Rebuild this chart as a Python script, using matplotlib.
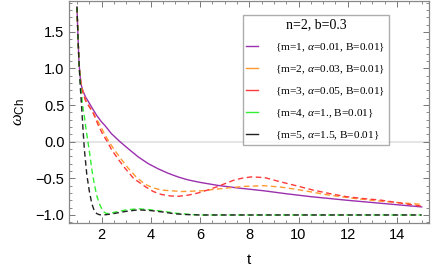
import matplotlib
matplotlib.use("Agg")
import matplotlib.pyplot as plt
from matplotlib.lines import Line2D
from matplotlib.ticker import MultipleLocator

plt.rcParams['font.family'] = ['Liberation Sans', 'DejaVu Sans']
plt.rcParams['mathtext.fontset'] = 'custom'
plt.rcParams['mathtext.rm'] = 'Liberation Serif'
plt.rcParams['mathtext.it'] = 'Liberation Serif:italic'
plt.rcParams['mathtext.sf'] = 'Liberation Sans'

# --- data ---
t1 = [1.0, 1.04, 1.08, 1.12, 1.16, 1.2, 1.26, 1.35, 1.46, 1.6, 1.8, 2.0, 2.14, 2.4, 2.75,
      3.1, 3.5, 3.9, 4.3, 4.7, 5.1, 5.5, 6.0, 6.7, 7.5, 8.6, 9.5, 10.5, 12.0, 13.5, 15.0]
w1 = [1.84, 1.45, 1.1, 0.92, 0.8, 0.74, 0.68, 0.61, 0.55, 0.47, 0.36, 0.27, 0.22, 0.11, 0.0,
      -0.1, -0.21, -0.3, -0.37, -0.43, -0.48, -0.52, -0.555, -0.595, -0.63, -0.67, -0.71, -0.75, -0.8, -0.845, -0.89]

t2 = [1.0, 1.04, 1.08, 1.12, 1.16, 1.2, 1.26, 1.35, 1.46, 1.65, 1.93, 2.1, 2.3, 2.54, 2.8,
      3.08, 3.4, 3.76, 4.1, 4.43, 5.25, 6.06, 7.14, 7.8, 8.6, 9.3, 9.91, 10.6, 11.26,
      12.3, 13.29, 14.2, 15.0]
w2 = [1.84, 1.45, 1.1, 0.92, 0.8, 0.73, 0.66, 0.57, 0.5, 0.4, 0.23, 0.12, 0.0, -0.12, -0.24,
      -0.36, -0.48, -0.58, -0.63, -0.66, -0.68, -0.67, -0.63, -0.61, -0.6, -0.62, -0.65, -0.69, -0.73,
      -0.775, -0.81, -0.835, -0.855]

t3 = [1.0, 1.04, 1.08, 1.12, 1.16, 1.2, 1.26, 1.35, 1.46, 1.65, 1.86, 2.05, 2.2, 2.41, 2.7,
      2.95, 3.3, 3.76, 4.1, 4.43, 4.8, 5.11, 5.5, 5.92, 6.3, 6.73, 7.1, 7.41, 7.75, 8.09,
      8.63, 9.24, 9.9, 10.59, 11.3, 11.94, 12.6, 13.29, 14.2, 15.0]
w3 = [1.84, 1.45, 1.1, 0.92, 0.8, 0.72, 0.65, 0.56, 0.5, 0.4, 0.23, 0.1, 0.02, -0.11, -0.25,
      -0.36, -0.5, -0.61, -0.68, -0.72, -0.74, -0.745, -0.73, -0.7, -0.66, -0.61, -0.56, -0.52, -0.495, -0.48,
      -0.49, -0.545, -0.6, -0.66, -0.71, -0.75, -0.775, -0.795, -0.84, -0.88]

t4 = [1.0, 1.04, 1.08, 1.12, 1.16, 1.2, 1.25, 1.3, 1.35, 1.4, 1.5, 1.6, 1.7, 1.8, 1.9,
      2.0, 2.1, 2.2, 2.3, 2.5, 2.7, 3.0, 3.5, 4.0, 4.5, 5.0, 5.5, 6.0, 7.0, 9.0, 12.0, 15.0]
w4 = [1.84, 1.45, 1.1, 0.88, 0.72, 0.6, 0.45, 0.35, 0.22, 0.1, -0.12, -0.37, -0.57, -0.73, -0.84,
      -0.91, -0.96, -0.98, -0.98, -0.965, -0.95, -0.93, -0.915, -0.93, -0.95, -0.975, -0.99, -1.0, -1.0, -1.0, -1.0, -1.0]

t5 = [1.0, 1.04, 1.08, 1.12, 1.16, 1.2, 1.25, 1.3, 1.4, 1.5, 1.6, 1.7, 1.8, 1.9, 2.0,
      2.2, 2.5, 3.0, 3.5, 4.0, 4.5, 5.0, 5.5, 6.0, 7.0, 9.0, 12.0, 15.0]
w5 = [1.84, 1.45, 1.1, 0.85, 0.62, 0.42, 0.15, -0.1, -0.45, -0.67, -0.84, -0.94, -0.98, -0.995, -1.0,
      -0.995, -0.98, -0.95, -0.93, -0.94, -0.96, -0.985, -0.995, -1.0, -1.0, -1.0, -1.0, -1.0]

labels = [r'{m=1, $\alpha$=0.01, B=0.01}',
          r'{m=2, $\alpha$=0.03, B=0.01}',
          r'{m=3, $\alpha$=0.05, B=0.01}',
          r'{m=4, $\alpha$=1., B=0.01}',
          r'{m=5, $\alpha$=1.5, B=0.01}']
colors = ['#9b2fae', '#ff9a30', '#ff3a3a', '#33ee33', '#222222']

fig = plt.figure(figsize=(4.36, 2.73), dpi=100)
ax = fig.add_axes([0.159, 0.183, 0.825, 0.813])

ax.axhline(0, color='#e0e0e0', lw=1.2, zorder=0)

ax.plot(t1, w1, color=colors[0], lw=1.0)
ax.plot(t2, w2, color=colors[1], lw=1.0, dashes=(4, 2.5))
ax.plot(t3, w3, color=colors[2], lw=1.0, dashes=(4, 2.5))
ax.plot(t4, w4, color=colors[3], lw=1.0, dashes=(4, 2.5))
ax.plot(t5, w5, color=colors[4], lw=1.0, dashes=(4, 2.5))

ax.set_xlim(0.69, 15.3)
ax.set_ylim(-1.11, 1.92)
ax.xaxis.set_major_locator(MultipleLocator(2))
ax.xaxis.set_minor_locator(MultipleLocator(0.5))
ax.yaxis.set_major_locator(MultipleLocator(0.5))
ax.yaxis.set_minor_locator(MultipleLocator(0.1))
ax.tick_params(which='both', direction='in', top=True, right=True, color='#777777',
               labelsize=10.5, labelcolor='black')
ax.tick_params(which='major', length=4, width=0.7)
ax.tick_params(which='minor', length=2, width=0.6)
for s in ax.spines.values():
    s.set_color('#888888')
    s.set_linewidth(0.9)

ax.set_xlabel('t', fontsize=11, labelpad=8)
ax.set_ylabel(r'$\omega_{\mathsf{Ch}}$', fontsize=12, labelpad=6)

handles = [Line2D([], [], color=c, lw=1.0) for c in colors]
leg = ax.legend(handles, labels, title='n=2, b=0.3', loc='upper left',
                bbox_to_anchor=(0.483, 0.937), frameon=True, fancybox=False,
                prop={'family': 'Liberation Serif', 'size': 8.2},
                handlelength=1.0, handletextpad=1.5, labelspacing=0.85,
                borderpad=0.3, borderaxespad=0)
leg.get_title().set_fontfamily('Liberation Serif')
leg.get_title().set_fontsize(10)
leg.get_frame().set_edgecolor('#999999')
leg.get_frame().set_linewidth(1.0)

fig.savefig('out.png', dpi=100)
